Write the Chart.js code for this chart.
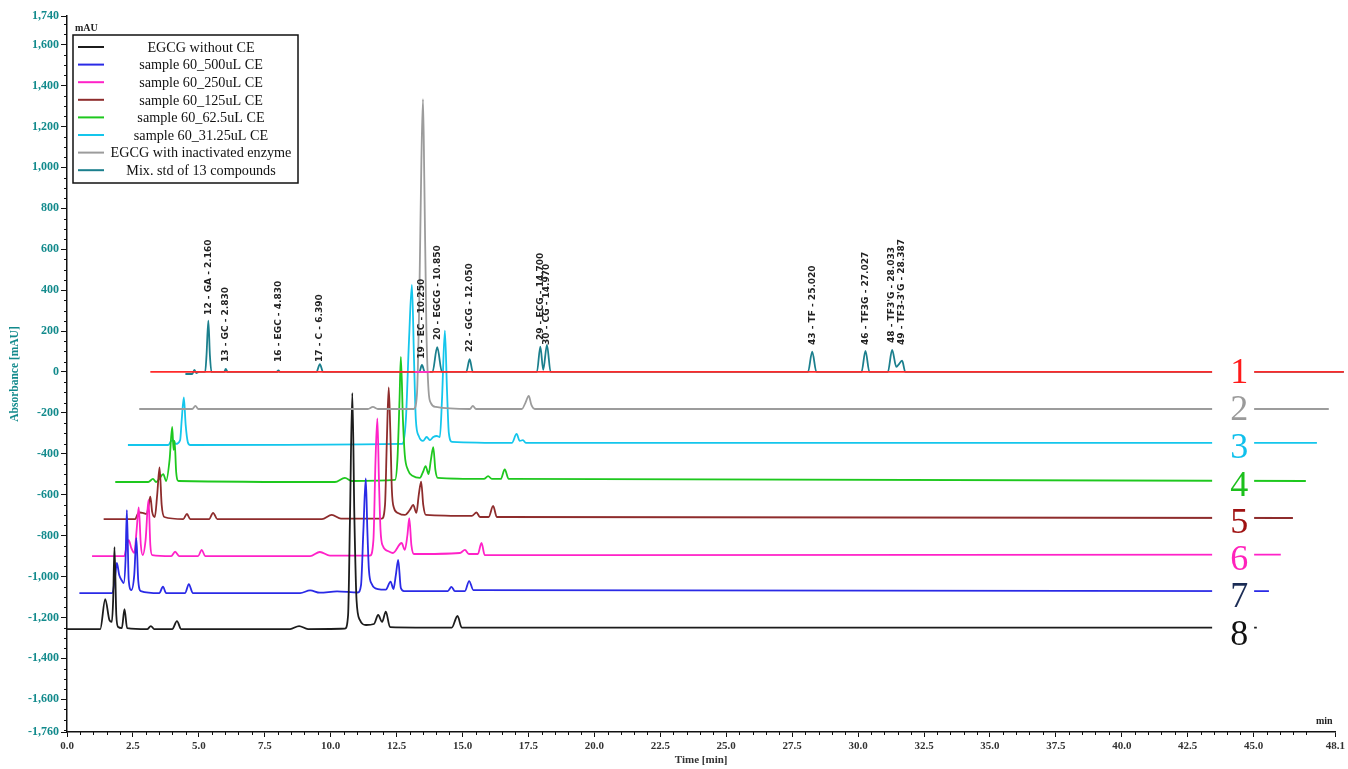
<!DOCTYPE html>
<html>
<head>
<meta charset="utf-8">
<script src="https://cdn.jsdelivr.net/npm/chart.js@4.4.1/dist/chart.umd.min.js"></script>
<style>
  html, body { margin: 0; padding: 0; background: #fff; }
  #wrap { width: 1348px; height: 769px; }
</style>
</head>
<body>
<div id="wrap"><canvas id="chroma" width="1348" height="769"></canvas></div>
<script>
// tick labels
const xTicks = [0, 2.5, 5, 7.5, 10, 12.5, 15, 17.5, 20, 22.5, 25, 27.5, 30, 32.5, 35, 37.5, 40, 42.5, 45, 48.1];
const yTicks = [1740, 1600, 1400, 1200, 1000, 800, 600, 400, 200, 0, -200, -400, -600, -800, -1000, -1200, -1400, -1600, -1760];

// traces, [time min, mAU] (each trace is offset in time and signal)
const noCE = [[0, -1257], [1.26, -1257], [1.45, -1110], [1.61, -1213], [1.70, -1222], [1.75, -1115], [1.80, -856], [1.87, -1188], [1.94, -1247], [2.08, -1252], [2.18, -1159], [2.28, -1252], [3.04, -1257], [3.18, -1242], [3.31, -1257], [3.99, -1257], [4.17, -1218], [4.33, -1257], [8.46, -1257], [8.80, -1242], [9.14, -1257], [10.54, -1255], [10.66, -1188], [10.73, -724], [10.82, -103], [10.90, -724], [10.98, -1115], [11.11, -1213], [11.34, -1237], [11.64, -1232], [11.80, -1188], [11.95, -1222], [12.09, -1172], [12.25, -1247], [14.59, -1250], [14.81, -1193], [14.97, -1250], [45.12, -1250]];
const ce500 = [[0.47, -1081], [1.72, -1081], [1.83, -993], [1.89, -934], [1.98, -993], [2.09, -1022], [2.15, -1032], [2.22, -919], [2.27, -675], [2.34, -1017], [2.44, -1066], [2.55, -993], [2.63, -812], [2.70, -1017], [2.80, -1071], [3.50, -1081], [3.64, -1050], [3.76, -1081], [4.48, -1081], [4.62, -1037], [4.77, -1081], [8.84, -1081], [9.22, -1068], [9.59, -1079], [10.24, -1073], [11.03, -1078], [11.15, -1042], [11.24, -773], [11.33, -520], [11.39, -773], [11.45, -968], [11.56, -1037], [11.79, -1061], [12.09, -1064], [12.27, -1025], [12.38, -1061], [12.47, -993], [12.56, -919], [12.66, -1056], [12.78, -1071], [14.44, -1071], [14.58, -1051], [14.71, -1071], [15.09, -1071], [15.25, -1022], [15.41, -1066], [45.58, -1071]];
const ce250 = [[0.95, -900], [2.17, -900], [2.27, -846], [2.34, -822], [2.44, -861], [2.55, -885], [2.64, -773], [2.72, -662], [2.80, -846], [2.87, -895], [2.98, -822], [3.09, -626], [3.16, -846], [3.23, -895], [3.95, -900], [4.10, -879], [4.26, -900], [4.97, -900], [5.11, -870], [5.24, -900], [9.22, -900], [9.59, -880], [9.97, -898], [11.49, -898], [11.62, -822], [11.70, -430], [11.77, -227], [11.83, -528], [11.89, -773], [11.98, -851], [12.17, -875], [12.36, -885], [12.69, -836], [12.81, -870], [12.91, -797], [12.98, -715], [13.06, -846], [13.16, -890], [14.90, -885], [15.09, -870], [15.24, -890], [15.58, -890], [15.72, -836], [15.84, -895], [46.03, -893]];
const ce125 = [[1.39, -719], [2.59, -719], [2.68, -694], [2.76, -687], [2.87, -689], [3.02, -694], [3.10, -650], [3.16, -609], [3.23, -684], [3.33, -709], [3.42, -601], [3.51, -466], [3.59, -650], [3.69, -709], [4.41, -719], [4.55, -694], [4.67, -719], [5.39, -719], [5.54, -689], [5.70, -719], [9.67, -719], [10.04, -699], [10.39, -717], [11.94, -717], [12.06, -650], [12.13, -333], [12.20, -75], [12.26, -284], [12.32, -577], [12.40, -665], [12.55, -689], [12.81, -699], [13.00, -675], [13.13, -650], [13.25, -689], [13.34, -601], [13.43, -536], [13.51, -650], [13.61, -699], [15.35, -704], [15.53, -687], [15.66, -709], [15.99, -709], [16.16, -655], [16.30, -709], [46.49, -714]];
const ce62 = [[1.83, -538], [3.08, -538], [3.26, -523], [3.38, -538], [3.50, -523], [3.65, -499], [3.76, -533], [3.89, -430], [3.99, -269], [4.04, -381], [4.08, -337], [4.14, -489], [4.23, -533], [10.16, -538], [10.54, -518], [10.80, -533], [12.44, -528], [12.53, -430], [12.61, -137], [12.66, 73], [12.74, -235], [12.81, -406], [12.93, -479], [13.12, -509], [13.38, -518], [13.50, -489], [13.60, -460], [13.71, -499], [13.80, -430], [13.89, -368], [13.97, -479], [14.06, -518], [15.81, -523], [15.97, -509], [16.11, -523], [16.45, -523], [16.60, -476], [16.75, -523], [46.98, -533]];
const ce31 = [[2.31, -357], [3.84, -357], [3.95, -337], [4.03, -333], [4.12, -352], [4.29, -333], [4.35, -235], [4.43, -124], [4.50, -259], [4.58, -342], [4.67, -357], [12.70, -352], [12.85, -235], [12.97, 156], [13.08, 425], [13.16, 59], [13.23, -235], [13.34, -313], [13.50, -337], [13.64, -318], [13.76, -333], [13.89, -318], [14.02, -313], [14.14, -318], [14.22, -137], [14.33, 202], [14.41, -88], [14.48, -298], [14.60, -342], [16.87, -347], [17.05, -303], [17.17, -337], [17.29, -333], [17.40, -347], [47.40, -347]];
const inactivated = [[2.74, -181], [4.75, -181], [4.87, -166], [4.98, -181], [11.41, -181], [11.60, -171], [11.79, -181], [13.15, -181], [13.27, -112], [13.36, 352], [13.44, 1037], [13.50, 1333], [13.55, 939], [13.63, 205], [13.71, -88], [13.80, -152], [13.99, -171], [15.28, -181], [15.39, -166], [15.51, -181], [17.25, -181], [17.38, -152], [17.51, -117], [17.61, -161], [17.74, -181], [47.85, -181]];
const mixStd = [[4.49, -10], [4.75, -10], [4.83, 10], [4.90, -5], [5.01, 0], [5.24, 0], [5.29, 80], [5.36, 251], [5.42, 80], [5.48, 0], [5.96, 0], [6.02, 15], [6.09, 0], [7.95, 0], [8.02, 8], [8.08, 0], [9.46, 0], [9.59, 38], [9.71, 0], [13.36, 0], [13.46, 34], [13.57, 0], [13.86, 0], [14.04, 121], [14.22, 0], [15.14, 0], [15.27, 62], [15.39, 0], [17.82, 0], [17.95, 124], [18.06, 10], [18.20, 132], [18.34, 0], [28.10, 0], [28.26, 99], [28.42, 0], [30.13, 0], [30.28, 103], [30.43, 0], [31.13, 0], [31.29, 108], [31.45, 25], [31.56, 40], [31.67, 55], [31.79, 0], [48.42, 0]];
const baselineMark = [[3.16, 0], [48.42, 0]];
const ecMark = [[13.19, 0], [13.76, 0]];

const seriesNames = ['EGCG without CE', 'sample 60_500uL CE', 'sample 60_250uL CE', 'sample 60_125uL CE', 'sample 60_62.5uL CE', 'sample 60_31.25uL CE', 'EGCG with inactivated enzyme', 'Mix. std of 13 compounds'];
const seriesData = [noCE, ce500, ce250, ce125, ce62, ce31, inactivated, mixStd];
const seriesColors = ['#1c1c1c', '#2a2ae6', '#ff22c8', '#8e2c2c', '#1ec81e', '#14c6ec', '#9c9c9c', '#1b7f8d'];
const seriesOrder = [3, 4, 5, 6, 7, 8, 2, 1];

// peak annotations of the standard
const peakNames = ['12 - GA - 2.160', '13 - GC - 2.830', '16 - EGC - 4.830', '17 - C - 6.390', '19 - EC - 10.250', '20 - EGCG - 10.850', '22 - GCG - 12.050', '29 - ECG - 14.700', '30 - CG - 14.970', '43 - TF - 25.020', '46 - TF3G - 27.027', "48 - TF3'G - 28.033", "49 - TF3-3'G - 28.387"];
const peakTimes = [5.36, 6.02, 8.02, 9.59, 13.46, 14.04, 15.27, 17.95, 18.20, 28.26, 30.28, 31.29, 31.67];
const peakLabelAt = [279, 49, 49, 49, 64, 156, 98, 156, 132, 132, 132, 142, 132];

// trace numbers on the right
const traceNumbers = ['1', '2', '3', '4', '5', '6', '7', '8'];
const traceNumberAt = [0, -181, -367, -548, -729, -910, -1095, -1281];
const traceNumberColors = ['#ff1a1a', '#9a9a9a', '#10c0ec', '#1cc01c', '#a01212', '#ff22bb', '#1b2c55', '#111111'];
const numberTime = 44.45;

const datasets = [
    { label: '', data: ecMark, borderColor: '#ff33cc', order: -2 },
    { label: '', data: baselineMark, borderColor: '#ff2a2a', order: -1 }
];
seriesData.forEach((d, i) => {
    datasets.push({ label: seriesNames[i], data: d, borderColor: seriesColors[i], order: seriesOrder[i] });
});
datasets.forEach(ds => {
    ds.borderWidth = 1.8;
    ds.pointRadius = 0;
    ds.fill = false;
    ds.cubicInterpolationMode = 'monotone';
    ds.clip = false;
});

const tealText = '#128a8c';

const decorations = {
    id: 'decorations',
    afterDatasetsDraw(chart) {
        const { ctx, scales: { x, y } } = chart;
        ctx.save();

        // minor ticks
        ctx.strokeStyle = '#111';
        ctx.lineWidth = 1;
        ctx.beginPath();
        for (let t = 0.5; t < 48; t += 0.5) {
            if (Math.abs(t / 2.5 - Math.round(t / 2.5)) < 1e-6) continue;
            const px = Math.round(x.getPixelForValue(t)) + 0.5;
            ctx.moveTo(px, y.bottom);
            ctx.lineTo(px, y.bottom + 3);
        }
        for (let v = -1750; v < 1740; v += 50) {
            if (v % 200 === 0) continue;
            const py = Math.round(y.getPixelForValue(v)) + 0.5;
            ctx.moveTo(x.left, py);
            ctx.lineTo(x.left - 3, py);
        }
        ctx.stroke();

        // peak labels
        ctx.fillStyle = '#222';
        ctx.font = 'bold 9px "DejaVu Sans", sans-serif';
        ctx.textAlign = 'left';
        ctx.textBaseline = 'middle';
        peakNames.forEach((name, i) => {
            const px = x.getPixelForValue(peakTimes[i]);
            const py = y.getPixelForValue(peakLabelAt[i]);
            ctx.save();
            ctx.translate(px, py);
            ctx.rotate(-Math.PI / 2);
            ctx.fillText(name, 0, 0);
            ctx.restore();
        });

        // trace numbers with white backing
        ctx.font = '36px "Liberation Serif", "Times New Roman", serif';
        ctx.textAlign = 'center';
        ctx.textBaseline = 'middle';
        traceNumbers.forEach((n, i) => {
            const px = x.getPixelForValue(numberTime);
            const py = y.getPixelForValue(traceNumberAt[i]);
            ctx.fillStyle = '#fff';
            ctx.fillRect(px - 27, py - 12, 42, 24);
            ctx.fillStyle = traceNumberColors[i];
            ctx.fillText(n, px, py + 2);
        });

        // unit captions
        ctx.fillStyle = '#222';
        ctx.font = 'bold 10px "Liberation Serif", serif';
        ctx.textAlign = 'left';
        ctx.textBaseline = 'middle';
        ctx.fillText('mAU', x.left + 8, 28);
        ctx.fillText('min', 1316, 721);

        // legend box
        const named = chart.data.datasets.filter(ds => ds.label);
        const order = seriesNames.map(n => named.find(ds => ds.label === n));
        const bx = 73, by = 35, bw = 225, bh = 148;
        ctx.fillStyle = '#fff';
        ctx.fillRect(bx, by, bw, bh);
        ctx.strokeStyle = '#111';
        ctx.lineWidth = 1.5;
        ctx.strokeRect(bx, by, bw, bh);
        ctx.font = '14.2px "Liberation Serif", "Times New Roman", serif';
        ctx.textAlign = 'center';
        order.forEach((ds, i) => {
            const ry = by + 12 + i * 17.6;
            ctx.strokeStyle = ds.borderColor;
            ctx.lineWidth = 2;
            ctx.beginPath();
            ctx.moveTo(bx + 5, ry);
            ctx.lineTo(bx + 31, ry);
            ctx.stroke();
            ctx.fillStyle = '#111';
            ctx.fillText(ds.label, bx + 128, ry + 1);
        });

        ctx.restore();
    }
};

new Chart(document.getElementById('chroma'), {
    type: 'line',
    data: { datasets },
    plugins: [decorations],
    options: {
        responsive: false,
        animation: false,
        events: [],
        layout: { padding: { top: 16, right: 11, left: 0, bottom: 0 } },
        plugins: { legend: { display: false }, tooltip: { enabled: false } },
        scales: {
            x: {
                type: 'linear',
                min: 0,
                max: 48.1,
                afterFit: s => { s.height = 37; },
                afterBuildTicks: s => { s.ticks = xTicks.map(v => ({ value: v })); },
                border: { display: true, color: '#111', width: 1.5 },
                grid: { display: true, drawOnChartArea: false, drawTicks: true, tickLength: 5, color: '#111' },
                ticks: {
                    autoSkip: false,
                    maxRotation: 0,
                    padding: 3,
                    color: '#333',
                    font: { family: '"Liberation Serif", serif', size: 11, weight: 'bold' },
                    callback: v => (v === 48.1 ? '48.1' : v.toFixed(1))
                },
                title: {
                    display: true,
                    text: 'Time [min]',
                    color: '#333',
                    padding: { top: 0, bottom: 2 },
                    font: { family: '"Liberation Serif", serif', size: 11, weight: 'bold' }
                }
            },
            y: {
                type: 'linear',
                min: -1760,
                max: 1740,
                afterFit: s => { s.width = 67; },
                afterBuildTicks: s => { s.ticks = yTicks.map(v => ({ value: v })); },
                border: { display: true, color: '#111', width: 1.5 },
                grid: { display: true, drawOnChartArea: false, drawTicks: true, tickLength: 6, color: '#111' },
                ticks: {
                    autoSkip: false,
                    padding: 2,
                    color: tealText,
                    font: { family: '"Liberation Serif", serif', size: 12, weight: 'bold' },
                    callback: v => v.toLocaleString('en-US')
                },
                title: {
                    display: true,
                    text: 'Absorbance [mAU]',
                    color: tealText,
                    padding: { top: 8, bottom: 0 },
                    font: { family: '"Liberation Serif", serif', size: 11.5, weight: 'bold' }
                }
            }
        }
    }
});
</script>
</body>
</html>
